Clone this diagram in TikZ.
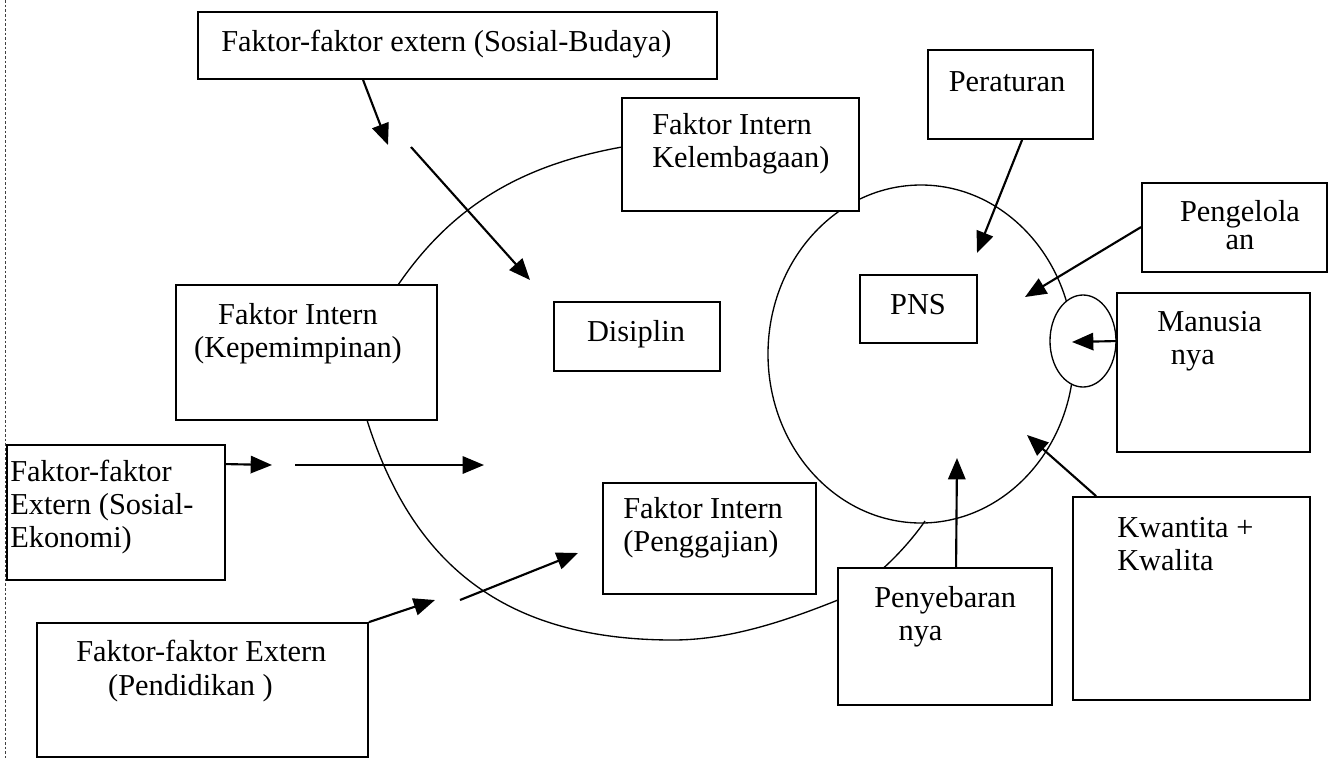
\documentclass[tikz,border=0pt]{standalone}
\usepackage{fontspec}
\setmainfont{Liberation Serif}
\usetikzlibrary{positioning,fit,calc,shapes.geometric,arrows.meta}

\begin{document}
\begin{tikzpicture}[x=0.75pt,y=-0.75pt,
                       box/.style={draw,fill=white,line width=1.4pt,inner sep=0pt},
                       label text/.style={font=\fontsize{22.8}{25}\selectfont,inner sep=0pt},
                       ring line/.style={line width=1pt},
                       arrow line/.style={line width=1.6pt,-{Triangle[length=16pt,width=13pt]}}
                      ]
   \useasboundingbox (0,0) rectangle (1329,758);
   \draw[dash pattern=on 2pt off 1.5pt,black!75,line width=0.5pt] (5,0) -- (5,758);

   \draw[ring line] (660,140) -- (622,147) .. controls (522,165) and (453,205) .. (398,285)
      -- (367,420) .. controls (412,563) and (503,640) .. (673,640)
      .. controls (728,640) and (783,622) .. (838,600)
      .. controls (870,585) and (905,550) .. (925,521);
   \node[draw,ellipse,ring line,minimum width=229.5pt,minimum height=253.5pt,inner sep=0pt]
      (pnsRing) at (921,354) {};

   \node[box,fit={(198,12) (717,79)}] (budaya) {};
   \node[box,fit={(622,98) (859,211)}] (lembaga) {};
   \node[box,fit={(928,50) (1093,139)}] (peraturan) {};
   \node[box,fit={(1142,183) (1327,272)}] (pengelola) {};
   \node[box,fit={(860,275) (977,343)}] (pns) {};
   \node[box,fit={(1117,293) (1310,452)}] (manusia) {};
   \node[draw,ellipse,fill=white,ring line,minimum width=49.5pt,minimum height=69pt,inner sep=0pt]
      (manusiaRing) at (1083,341) {};
   \node[box,fit={(554,302) (720,371)}] (disiplin) {};
   \node[box,fit={(176,285) (437,420)}] (pimpin) {};
   \node[box,fit={(7,445) (225,580)}] (ekonomi) {};
   \node[box,fit={(603,483) (816,594)}] (gaji) {};
   \node[box,fit={(838,568) (1052,705)}] (sebar) {};
   \node[box,fit={(1073,497) (1310,700)}] (kwantita) {};
   \node[box,fit={(37,623) (368,757)}] (didik) {};

   \node[label text,anchor=west] (budayaT) at (221,44) {Faktor-faktor extern (Sosial-Budaya)};
   \node[label text,anchor=west,align=left] (lembagaT) at (652,144) {Faktor Intern\\Kelembagaan)};
   \node[label text] (peraturanT) at (1007,82) {Peraturan};
   \node[label text,align=center] (pengelolaT) at (1240,225) {Pengelola\\[-4pt]an};
   \node[label text] (pnsT) at (918,305) {PNS};
   \node[label text,anchor=west,align=left] (manusiaT) at (1157,341) {Manusia\\\hspace*{0.45em}nya};
   \node[label text] (disiplinT) at (636,334) {Disiplin};
   \node[label text,align=center] (pimpinT) at (298,334) {Faktor Intern\\(Kepemimpinan)};
   \node[label text,anchor=west,align=left] (ekonomiT) at (10,507) {Faktor-faktor\\Extern (Sosial-\\Ekonomi)};
   \node[label text,anchor=west,align=left] (gajiT) at (623,528) {Faktor Intern\\(Penggajian)};
   \node[label text,anchor=west,align=left] (sebarT) at (874,617) {Penyebaran\\\hspace*{0.8em}nya};
   \node[label text,anchor=west,align=left] (kwantitaT) at (1117,544) {Kwantita +\\Kwalita};
   \node[label text,anchor=west,align=left] (didikT) at (76,671) {Faktor-faktor Extern\\\hspace*{1.05em}(Pendidikan )};

   \coordinate (budayaTip) at (388,145);
   \coordinate (budayaGap) at (411,147);
   \coordinate (disiplinTip) at (530,280);
   \coordinate (ekonomiTip) at (272,465);
   \coordinate (ekonomiGap) at (295,465);
   \coordinate (ekonomiEnd) at (484,465);
   \coordinate (didikTip) at (435,600);
   \coordinate (didikGap) at (460,600);
   \coordinate (gajiTip) at (578,553);
   \coordinate (peraturanTip) at (977,253);
   \coordinate (pengelolaTip) at (1025,297);
   \coordinate (manusiaTip) at (1072,342);
   \coordinate (kwantitaTip) at (1027,435);
   \coordinate (sebarTip) at (957,458);

   \draw[arrow line] ($(budaya.south west)+(166,0)$) -- (budayaTip);
   \draw[arrow line] (budayaGap) -- (disiplinTip);
   \draw[arrow line] ($(ekonomi.north east)+(0,20)$) -- (ekonomiTip);
   \draw[arrow line] (ekonomiGap) -- (ekonomiEnd);
   \draw[arrow line] (didik.north east) -- (didikTip);
   \draw[arrow line] (didikGap) -- (gajiTip);
   \draw[arrow line] ($(peraturan.south west)+(95,0)$) -- (peraturanTip);
   \draw[arrow line] ($(pengelola.north west)+(0,45)$) -- (pengelolaTip);
   \draw[arrow line] ($(manusia.north west)+(0,49)$) -- (manusiaTip);
   \draw[arrow line] ($(kwantita.north west)+(24,0)$) -- (kwantitaTip);
   \draw[arrow line] ($(sebar.north west)+(119,0)$) -- (sebarTip);
  \end{tikzpicture}
\end{document}
